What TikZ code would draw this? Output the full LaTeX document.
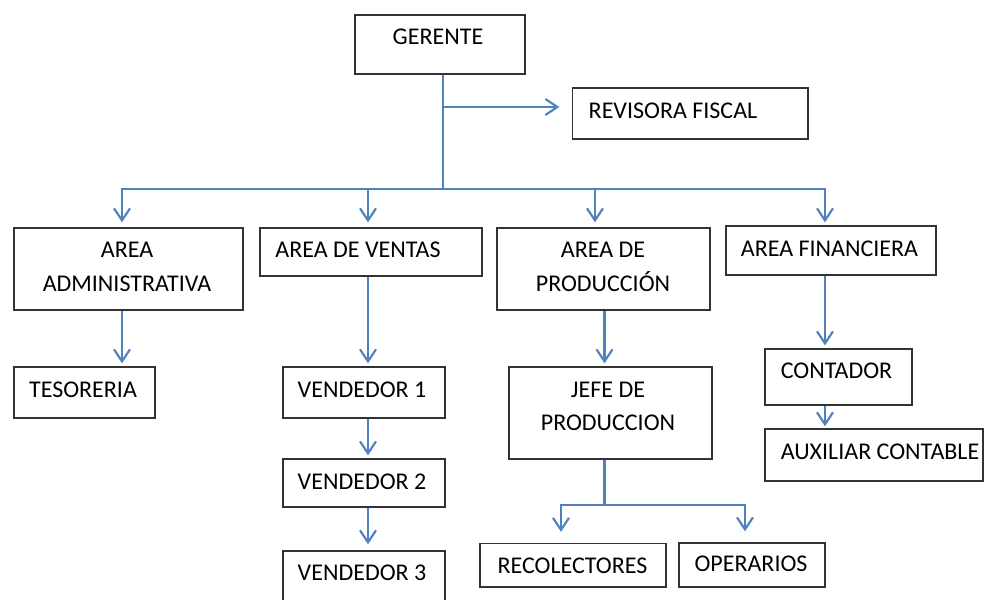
\documentclass[tikz,border=0pt]{standalone}
\usepackage{fontspec}
\setmainfont{Carlito}
\usetikzlibrary{arrows.meta,calc}
\definecolor{lineblue}{HTML}{4F81BD}
\definecolor{boxline}{HTML}{333333}
\tikzset{
  orgbox/.style={draw=boxline, line width=1.3pt, rectangle, inner sep=0pt, fill=white},
  lbl/.style={font=\fontsize{24}{29}\selectfont, anchor=base, inner sep=0pt, text=black},
  conn/.style={draw=lineblue, line width=2.2pt},
  arr/.style={conn, -{Straight Barb[length=12pt,width=16pt]}},
}
\newcommand\OBox[5]{\node[orgbox, minimum width={(#4-#2)*1pt}, minimum height={(#5-#3)*1pt}] (#1) at ({(#2+#4)/2},{(#3+#5)/2}) {};}
\begin{document}
\begin{tikzpicture}[x=1pt,y=-1pt]
\clip (0,0) rectangle (986,600);
\fill[white] (0,0) rectangle (986,600);

% boxes
\OBox{ger}{355}{15}{525}{74}
\OBox{rev}{572.5}{88}{808}{139}
\OBox{adm}{14}{228}{243}{310}
\OBox{ven}{260}{228}{482}{276}
\OBox{pro}{497}{228}{710}{310}
\OBox{fin}{726}{226}{936}{275}
\OBox{tes}{14}{367}{155}{418}
\OBox{vo}{283}{367}{445}{418}
\OBox{vt}{283}{459}{445}{507}
\OBox{vh}{283}{551}{445}{612}
\OBox{jefe}{509}{367}{712}{459}
\OBox{cont}{765}{349}{912}{405}
\OBox{aux}{765}{429}{983}{481}
\OBox{rec}{480}{543.5}{666}{587}
\OBox{ope}{679}{543}{825}{587}

% texts
\node[lbl] (tger) at (438,44.5) {GERENTE};
\node[lbl] (trev) at (673,118.5) {REVISORA FISCAL};
\node[lbl] (tadm1) at (127,257.3) {AREA};
\node[lbl] (tadm2) at (127,291) {ADMINISTRATIVA};
\node[lbl] (tven) at (358,257.3) {AREA DE VENTAS};
\node[lbl] (tpro1) at (603,257.3) {AREA DE};
\node[lbl] (tpro2) at (603,291) {PRODUCCIÓN};
\node[lbl] (tfin) at (829.5,256.7) {AREA FINANCIERA};
\node[lbl] (ttes) at (83,397.3) {TESORERIA};
\node[lbl] (tvo) at (362,397.3) {VENDEDOR 1};
\node[lbl] (tvt) at (362,489) {VENDEDOR 2};
\node[lbl] (tvh) at (362,580) {VENDEDOR 3};
\node[lbl] (tjefe1) at (608,397) {JEFE DE};
\node[lbl] (tjefe2) at (608,430.7) {PRODUCCION};
\node[lbl] (tcont) at (836.5,378) {CONTADOR};
\node[lbl] (taux) at (880,459) {AUXILIAR CONTABLE};
\node[lbl] (trec) at (572.5,573) {RECOLECTORES};
\node[lbl] (tope) at (751,571.7) {OPERARIOS};

% connector coordinates
\coordinate (bus) at (443,189);
\coordinate (br) at (443,107);
\coordinate (busL) at (122,189);
\coordinate (busV) at (368,189);
\coordinate (busP) at (595,189);
\coordinate (busR) at (825,189);
\coordinate (xv) at (368,0);
\coordinate (xp) at (604.5,0);
\coordinate (jb) at (604.5,505);
\coordinate (jl) at (561,505);
\coordinate (jr) at (745,505);

% connectors
\draw[conn] (ger.south -| bus) -- (bus);
\draw[arr, shorten >=12.5pt] (br) -- (br -| rev.west);
\draw[conn, line cap=rect] (busL) -- (busR);
\draw[arr, shorten >=5pt] (busL) -- (busL |- adm.north);
\draw[arr, shorten >=5pt] (busV) -- (busV |- ven.north);
\draw[arr, shorten >=5pt] (busP) -- (busP |- pro.north);
\draw[arr, shorten >=3pt] (busR) -- (busR |- fin.north);

\draw[arr, shorten >=3pt] (adm.south -| busL) -- (tes.north -| busL);
\draw[arr, shorten >=3pt] (ven.south -| xv) -- (vo.north -| xv);
\draw[arr, shorten >=3pt] (vo.south -| xv) -- (vt.north -| xv);
\draw[arr, shorten >=6pt] (vt.south -| xv) -- (vh.north -| xv);
\draw[arr, shorten >=3pt] (pro.south -| xp) -- (jefe.north -| xp);
\draw[conn] (jefe.south -| jb) -- (jb);
\draw[conn, line cap=rect] (jl) -- (jr);
\draw[arr, shorten >=11pt] (jl) -- (jl |- rec.north);
\draw[arr, shorten >=11pt] (jr) -- (jr |- ope.north);
\draw[arr, shorten >=3pt] (fin.south -| busR) -- (cont.north -| busR);
\draw[arr, shorten >=2pt] (cont.south -| busR) -- (aux.north -| busR);
\end{tikzpicture}
\end{document}
